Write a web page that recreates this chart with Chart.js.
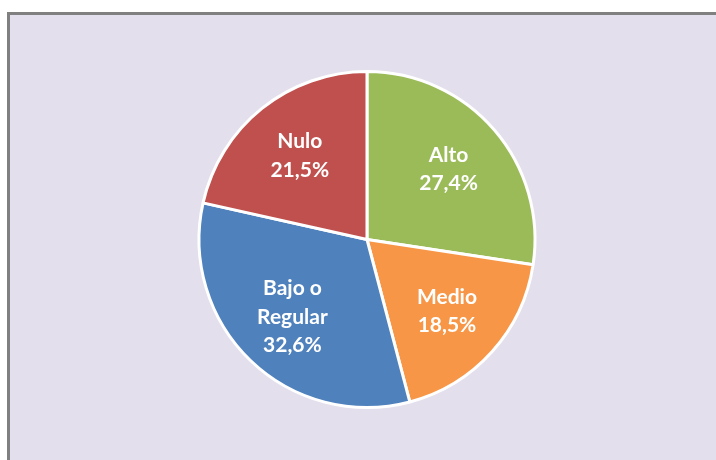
<!DOCTYPE html>
<html>
<head>
<meta charset="utf-8">
<script src="https://cdn.jsdelivr.net/npm/chart.js@4.4.0/dist/chart.umd.min.js"></script>
<style>
  html, body { margin: 0; padding: 0; background: #ffffff; }
  #wrap { position: relative; width: 716px; height: 460px; }
  #frame {
    position: absolute; left: 7px; top: 12px; width: 716px; height: 460px;
    background: #e4dfec; border-left: 3px solid #808080; border-top: 3px solid #808080;
    box-sizing: border-box;
  }
  #chart { position: absolute; left: 0; top: 0; }
</style>
</head>
<body>
<div id="wrap">
  <div id="frame"></div>
  <canvas id="chart" width="716" height="460"></canvas>
</div>
<script>
// niveles y porcentajes
var categories = ['Alto', 'Medio', 'Bajo o Regular', 'Nulo'];
var labelLines = [['Alto'], ['Medio'], ['Bajo o', 'Regular'], ['Nulo']];
var values = [27.4, 18.5, 32.6, 21.5];
var colors = ['#9bbb59', '#f79646', '#4f81bd', '#c0504d'];

// etiquetas dentro de cada sector
var sliceLabels = {
  id: 'sliceLabels',
  afterDatasetsDraw: function(chart) {
    var ctx = chart.ctx;
    var meta = chart.getDatasetMeta(0);
    ctx.save();
    ctx.fillStyle = '#ffffff';
    ctx.font = 'bold 21px Lato';
    ctx.textAlign = 'center';
    ctx.textBaseline = 'middle';
    meta.data.forEach(function(arc, i) {
      var mid = (arc.startAngle + arc.endAngle) / 2;
      var r = arc.outerRadius * 0.64;
      var x = arc.x + Math.cos(mid) * r;
      var y = arc.y + Math.sin(mid) * r;
      var lines = labelLines[i].concat([values[i].toFixed(1).replace('.', ',') + '%']);
      var lh = 28.5;
      var y0 = y - (lines.length - 1) * lh / 2;
      for (var k = 0; k < lines.length; k++) {
        ctx.fillText(lines[k], x, y0 + k * lh);
      }
    });
    ctx.restore();
  }
};

var ctx = document.getElementById('chart');
var myChart = new Chart(ctx, {
  type: 'pie',
  data: {
    labels: categories,
    datasets: [{
      data: values,
      backgroundColor: colors,
      borderColor: '#ffffff',
      borderWidth: 3
    }]
  },
  options: {
    responsive: false,
    animation: false,
    layout: { padding: { top: 70, bottom: 51, left: 197, right: 179 } },
    plugins: {
      legend: { display: false },
      tooltip: { enabled: false }
    }
  },
  plugins: [sliceLabels]
});
</script>
</body>
</html>
